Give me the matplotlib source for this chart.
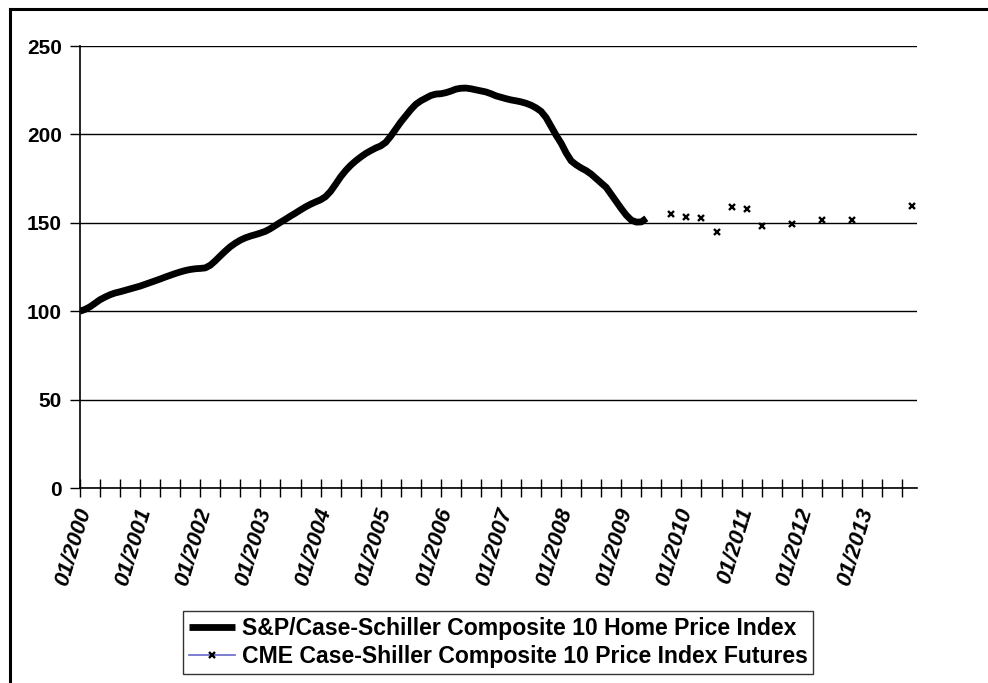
import matplotlib
matplotlib.use("Agg")
import matplotlib.pyplot as plt
import matplotlib.transforms as mtransforms
import numpy as np
from matplotlib.lines import Line2D

plt.rcParams["font.family"] = ["Liberation Sans", "DejaVu Sans"]
plt.rcParams["font.weight"] = "bold"

# S&P/Case-Shiller Composite 10, monthly from 01/2000 (01/2000 = 100)
index_2000 = [100.0, 101.0, 102.5, 104.5, 106.5, 108.0, 109.3, 110.3, 111.0, 111.8, 112.6, 113.4]
index_2001 = [114.2, 115.2, 116.2, 117.2, 118.2, 119.3, 120.3, 121.3, 122.2, 123.0, 123.6, 124.0]
index_2002 = [124.2, 124.5, 126.0, 128.5, 131.3, 134.0, 136.5, 138.5, 140.2, 141.5, 142.5, 143.3]
index_2003 = [144.2, 145.2, 146.7, 148.5, 150.3, 152.0, 153.8, 155.5, 157.3, 159.0, 160.5, 161.8]
index_2004 = [163.0, 164.8, 167.8, 171.8, 176.0, 179.5, 182.5, 185.0, 187.2, 189.2, 190.8, 192.3]
index_2005 = [193.5, 195.5, 199.0, 203.0, 207.0, 210.5, 214.0, 217.0, 219.0, 220.5, 222.0, 222.8]
index_2006 = [223.0, 223.6, 224.5, 225.6, 226.1, 226.2, 225.8, 225.2, 224.6, 224.0, 223.0, 221.8]
index_2007 = [221.0, 220.2, 219.5, 219.0, 218.4, 217.6, 216.5, 215.0, 213.0, 209.5, 204.5, 199.5]
index_2008 = [195.0, 189.5, 185.0, 182.8, 181.0, 179.5, 177.5, 175.0, 172.5, 170.0, 166.0, 162.0]
index_2009 = [158.0, 154.3, 151.5, 150.4, 150.5, 152.5]

# CME futures settlement values
futures_dates = ["11/2009", "02/2010", "05/2010", "08/2010", "11/2010", "02/2011",
                 "05/2011", "11/2011", "05/2012", "11/2012", "11/2013"]
futures_values = [155.0, 153.5, 152.5, 144.8, 158.8, 157.8, 148.0, 149.1, 151.6, 151.6, 159.7]

years = list(range(2000, 2014))
year_labels = [f"01/{y}" for y in years]
y_ticks = [0, 50, 100, 150, 200, 250]


def month_index(s):
    m, y = s.split("/")
    return (int(y) - 2000) * 12 + int(m) - 1


index_values = (index_2000 + index_2001 + index_2002 + index_2003 + index_2004
                + index_2005 + index_2006 + index_2007 + index_2008 + index_2009)
index_x = np.arange(len(index_values))
futures_x = [month_index(d) for d in futures_dates]

fig = plt.figure(figsize=(9.88, 6.83), dpi=100)
ax = fig.add_axes([80 / 988, 1 - 488 / 683, 837 / 988, 442 / 683])

ax.plot(index_x, index_values, color="black", lw=4.9, solid_capstyle="butt",
        label="S&P/Case-Schiller Composite 10 Home Price Index", zorder=3)
ax.plot(futures_x, futures_values, color="#6666cc", lw=0, marker="x", ms=5,
        mec="black", mew=1.7, label="CME Case-Shiller Composite 10 Price Index Futures", zorder=3)

ax.set_xlim(0, 167)
ax.set_ylim(0, 250)
ax.set_yticks(y_ticks)
ax.set_yticklabels([str(v) for v in y_ticks], fontsize=15, fontweight="bold")
ax.yaxis.grid(True, color="black", lw=1)
ax.set_axisbelow(True)

# ticks every 4 months, labels every January
ax.set_xticks(np.arange(0, 168, 4), minor=True)
ax.set_xticks([(y - 2000) * 12 for y in years])
ax.set_xticklabels(year_labels, rotation=73, ha="right", va="center",
                   rotation_mode="anchor", fontsize=16, fontweight="bold", fontstyle="italic")
ax.tick_params(axis="x", which="both", direction="inout", length=13, width=1)
ax.tick_params(axis="x", which="major", pad=8)
ax.tick_params(axis="y", direction="out", length=7, width=1, pad=6)
offset = mtransforms.ScaledTranslation(5 / 100, 0, fig.dpi_scale_trans)
for lab in ax.get_xticklabels():
    lab.set_transform(lab.get_transform() + offset)

for side in ["top", "right"]:
    ax.spines[side].set_visible(False)
ax.spines["left"].set_linewidth(1.2)
ax.spines["bottom"].set_linewidth(1.2)

# chart frame (cropped at right and bottom)
fig.add_artist(Line2D([9.5 / 988, 9.5 / 988], [0, 1 - 8.5 / 683], color="black", lw=2.2,
                      transform=fig.transFigure))
fig.add_artist(Line2D([9.5 / 988, 1], [1 - 8.5 / 683, 1 - 8.5 / 683], color="black", lw=2.2,
                      transform=fig.transFigure))

leg = fig.legend(loc="center", bbox_to_anchor=(498 / 988, 1 - 642.5 / 683),
                 prop={"size": 16.6, "weight": "bold"}, frameon=True, fancybox=False,
                 handlelength=2.0, handletextpad=0.3, borderpad=0.25, labelspacing=0.2)
leg.get_frame().set_edgecolor("black")
leg.get_frame().set_linewidth(1.0)
leg.legend_handles[1].set_linewidth(1.2)

fig.savefig("out.png", dpi=100, facecolor="white")
